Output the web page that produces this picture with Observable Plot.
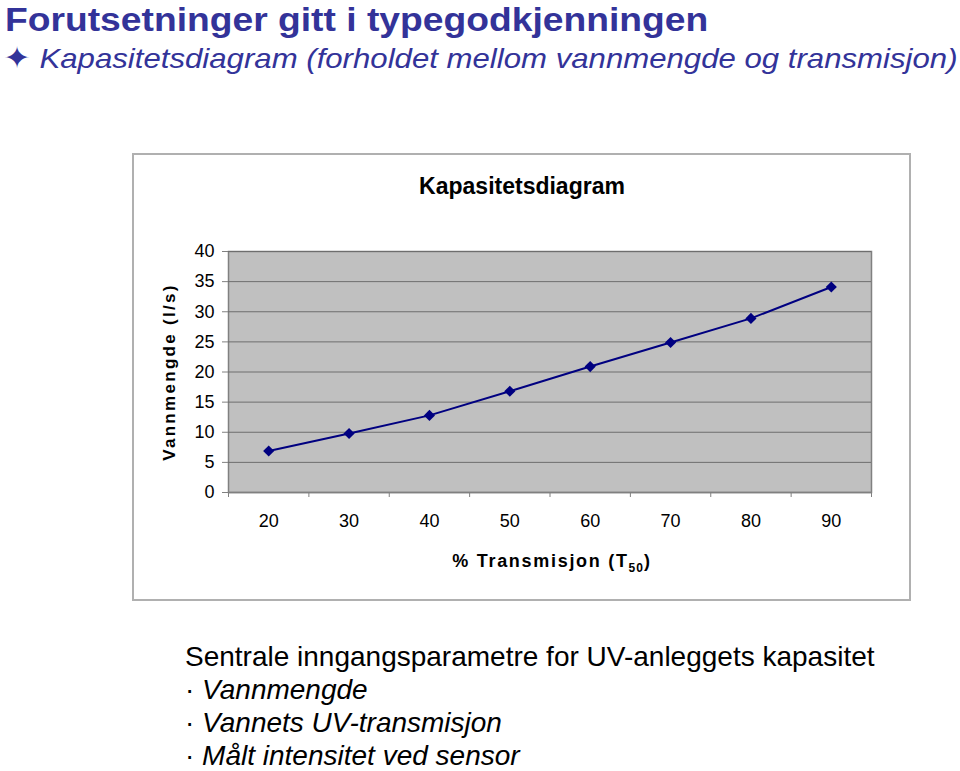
<!DOCTYPE html>
<html>
<head>
<meta charset="utf-8">
<script src="https://cdn.jsdelivr.net/npm/d3@7"></script>
<script src="https://cdn.jsdelivr.net/npm/@observablehq/plot@0.6"></script>
<style>
  html, body { margin: 0; padding: 0; background: #fff; }
  body { width: 960px; height: 771px; position: relative; overflow: hidden; font-family: "Liberation Sans", Arial, sans-serif; }
  .abs { position: absolute; white-space: nowrap; }
  #title { left: 5px; top: 0px; font-size: 34px; line-height: 1.12; font-weight: bold; color: #333399; transform: scaleX(1.095); transform-origin: 0 0; }
  #subtitle { left: 3px; top: 43px; font-size: 28px; line-height: 1; font-style: italic; color: #333399; transform: scaleX(1.113); transform-origin: 0 0; }
  #subtitle .star { font-style: normal; font-size: 30px; }
  #box { left: 132px; top: 153px; width: 779px; height: 448px; box-sizing: border-box; border: 2px solid #b0b0b0; }
  #chart { left: 132px; top: 153px; }
  #ctitle { left: 522px; top: 186px; transform: translate(-50%, -50%); font-size: 23px; font-weight: bold; }
  #ytitle { left: 170px; top: 372px; transform: translate(-50%, -50%) rotate(-90deg); font-size: 17px; font-weight: bold; letter-spacing: 2.3px; }
  #xtitle { left: 552px; top: 563px; transform: translate(-50%, -50%); font-size: 18px; font-weight: bold; letter-spacing: 1.7px; }
  #xtitle sub { font-size: 12px; letter-spacing: 1px; }
  .note { left: 185px; font-size: 28px; line-height: 1; color: #000; }
  .note i { font-style: italic; }
</style>
</head>
<body>
<script>
// Data
const transmission = [20, 30, 40, 50, 60, 70, 80, 90];
const flow = [6.9, 9.8, 12.8, 16.8, 20.9, 24.9, 28.9, 34.1];
const yTicks = [0, 5, 10, 15, 20, 25, 30, 35, 40];
const titleText = "Forutsetninger gitt i typegodkjenningen";
const subtitleStar = "✦";
const subtitleText = "Kapasitetsdiagram (forholdet mellom vannmengde og transmisjon)";
const chartTitle = "Kapasitetsdiagram";
const yLabel = "Vannmengde (l/s)";
const xLabelMain = "% Transmisjon (T";
const xLabelSub = "50";
const notesHeader = "Sentrale inngangsparametre for UV-anleggets kapasitet";
const notesItems = ["Vannmengde", "Vannets UV-transmisjon", "Målt intensitet ved sensor"];

const data = transmission.map((t, i) => ({t, q: flow[i]}));
const step = transmission[1] - transmission[0];
const boundaries = transmission.map(t => t - step / 2).concat([transmission[transmission.length - 1] + step / 2]);

function add(id, html, cls = "abs") {
  const el = document.createElement("div");
  if (id) el.id = id;
  el.className = cls; el.innerHTML = html;
  document.body.appendChild(el);
  return el;
}

add("title", titleText);
add("subtitle", '<span class="star">' + subtitleStar + '</span> ' + subtitleText);
add("box", "");

const chart = Plot.plot({
  width: 779,
  height: 448,
  marginLeft: 96,
  marginRight: 40,
  marginTop: 98,
  marginBottom: 109,
  style: {fontFamily: "'Liberation Sans', Arial, sans-serif", fontSize: "18px", color: "#000", background: "transparent", overflow: "visible"},
  x: {domain: [boundaries[0], boundaries[boundaries.length - 1]]},
  y: {domain: [0, 40]},
  marks: [
    Plot.frame({fill: "#c0c0c0", stroke: "#808080", strokeWidth: 1.5}),
    Plot.gridY(yTicks, {stroke: "#6e6e6e", strokeOpacity: 1, strokeWidth: 1}),
    Plot.axisY({ticks: yTicks, tickSize: 6, tickPadding: 8, label: null, stroke: "#808080", fill: "#000"}),
    Plot.axisX({ticks: boundaries, tickSize: 5, tickFormat: () => "", label: null, stroke: "#808080"}),
    Plot.axisX({ticks: transmission, tickSize: 0, tickPadding: 22, label: null, fill: "#000"}),
    Plot.ruleY([0], {stroke: "#808080", strokeWidth: 1.5}),
    Plot.line(data, {x: "t", y: "q", stroke: "#000080", strokeWidth: 2}),
    Plot.dot(data, {x: "t", y: "q", symbol: "diamond2", r: 5, fill: "#000080", stroke: "none"})
  ]
});
chart.id = "chart";
chart.classList.add("abs");
chart.style.position = "absolute";
document.body.appendChild(chart);

add("ctitle", chartTitle);
add("ytitle", yLabel);
add("xtitle", xLabelMain + "<sub>" + xLabelSub + "</sub>)");

const noteLines = [notesHeader].concat(notesItems.map(s => "· <i>" + s + "</i>"));
noteLines.forEach((html, i) => {
  const el = add(null, html, "abs note");
  el.style.top = (643 + i * 33) + "px";
});
</script>
</body>
</html>
